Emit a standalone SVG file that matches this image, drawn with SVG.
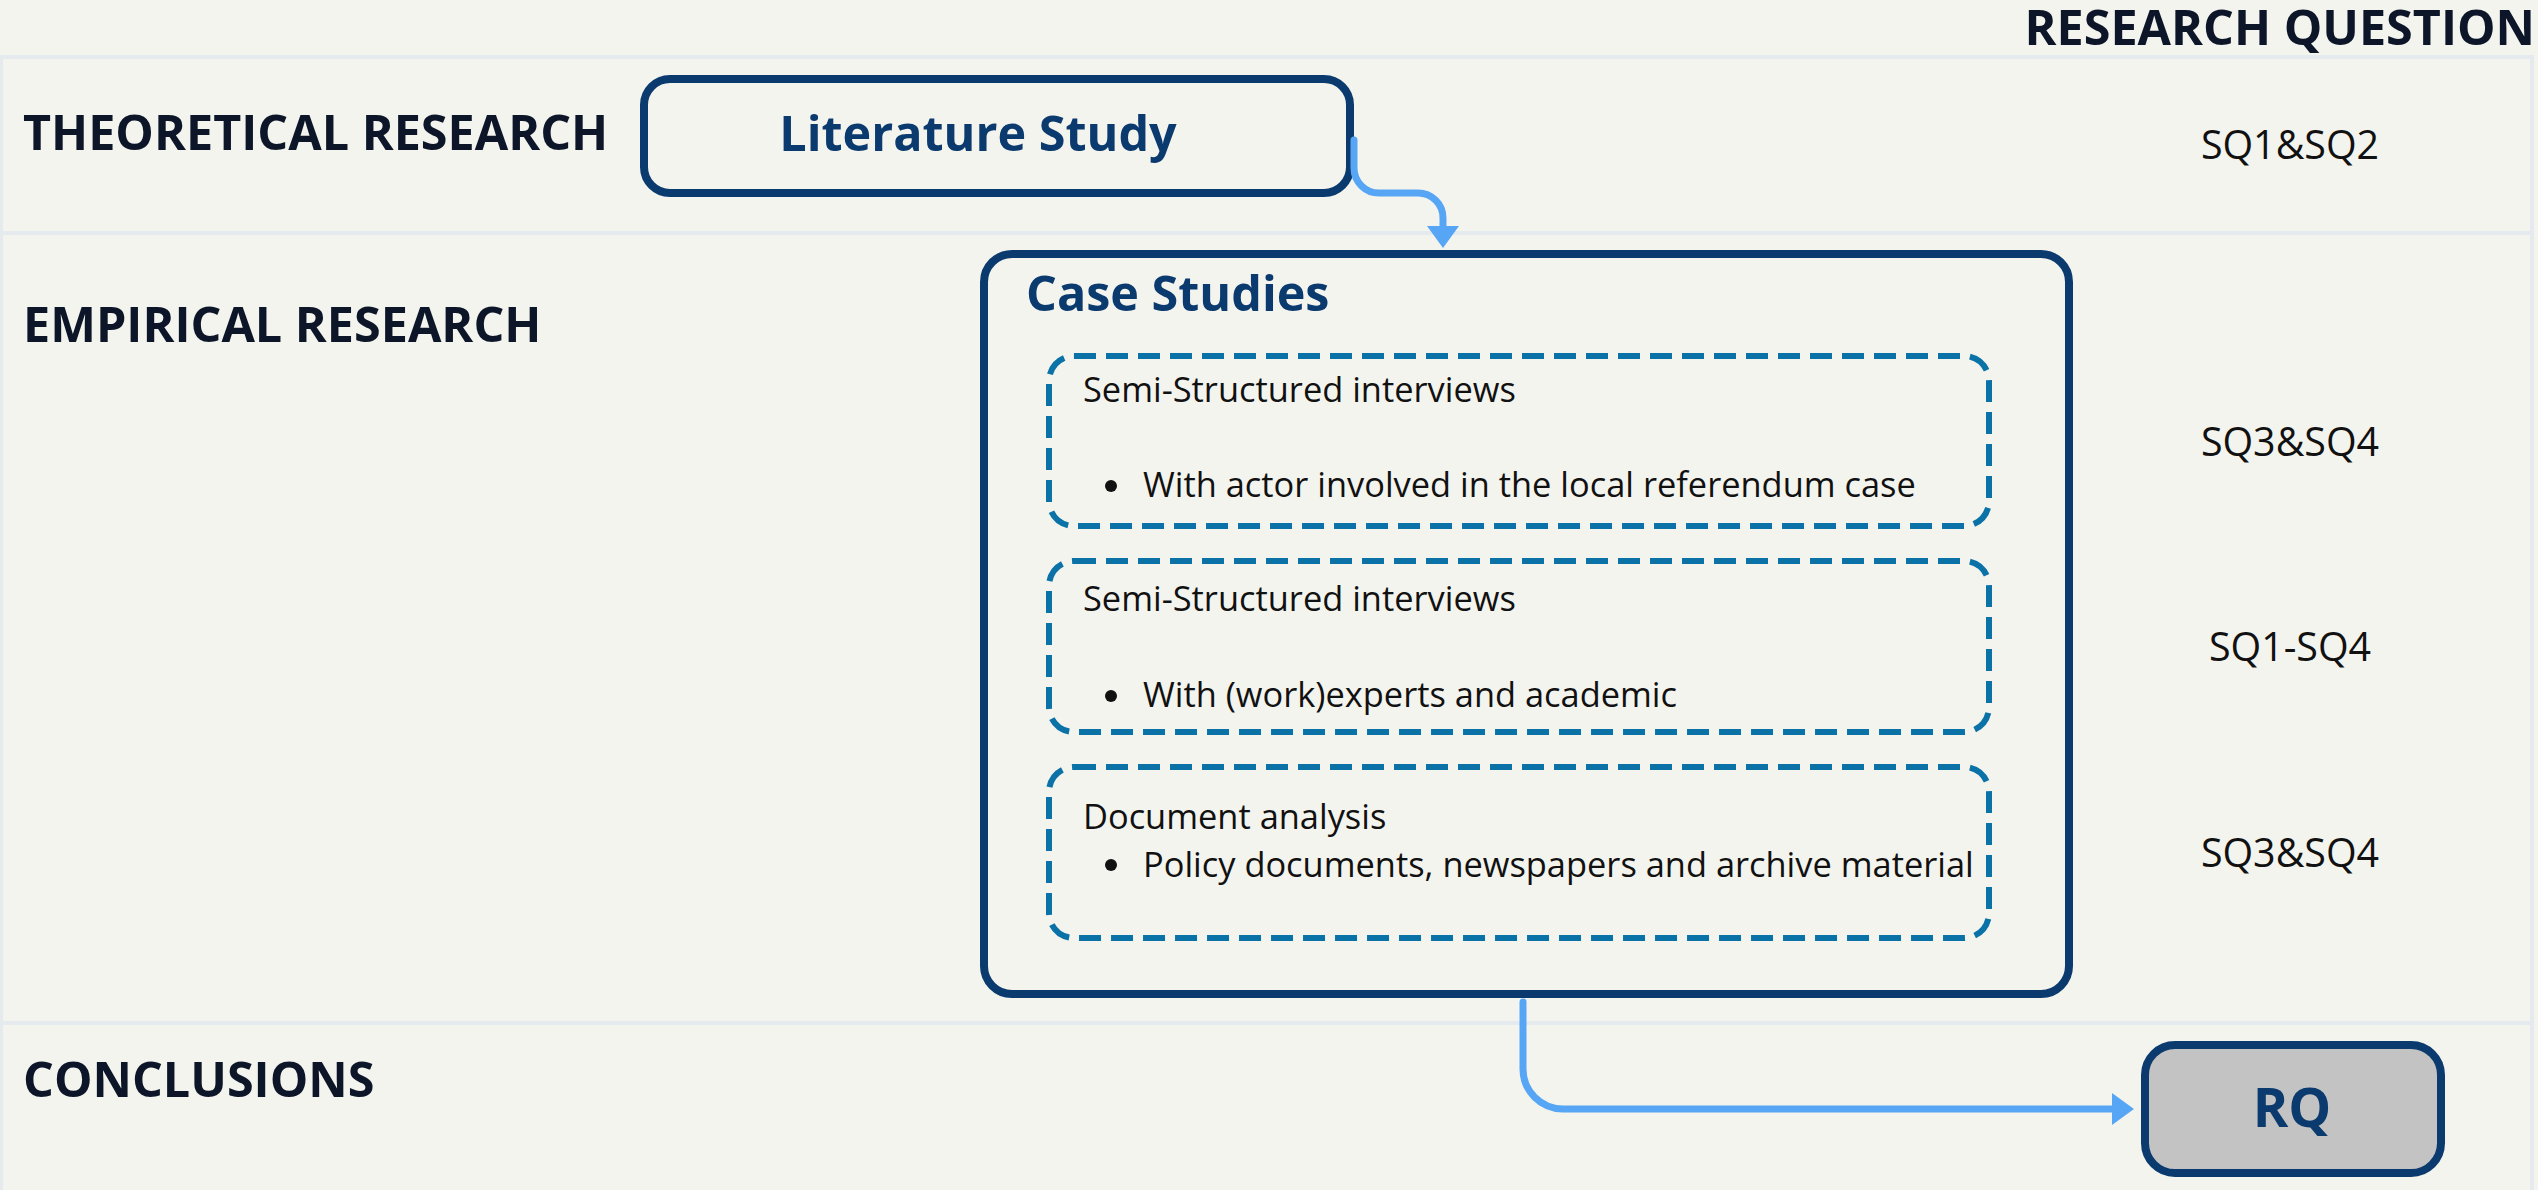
<svg xmlns="http://www.w3.org/2000/svg" width="2538" height="1190" viewBox="0 0 2538 1190">
<style>
.lane{fill:#f4f4ef;stroke:#e5eaee;stroke-width:4}
.lbl{font-family:"Open Sans","Noto Sans",sans-serif;font-weight:700;font-size:48.5px;fill:#0c1628}
.box{fill:#f4f4ef;stroke:#0a3a6e;stroke-width:8}
.btxt{font-family:"Open Sans","Noto Sans",sans-serif;font-weight:700;fill:#0a3a6e}
.dash{fill:none;stroke:#0b72a8;stroke-width:6;stroke-dasharray:22 10}
.t{font-family:"Open Sans","Noto Sans",sans-serif;font-size:34.4px;fill:#111}
.sq{font-family:"Open Sans","Noto Sans",sans-serif;font-size:39.4px;fill:#111;text-anchor:middle}
.conn{fill:none;stroke:#56a6f5;stroke-width:7;stroke-linecap:round;stroke-linejoin:round}
</style>
<defs>
<marker id="arr" viewBox="0 0 22 32" refX="10" refY="16" markerWidth="22" markerHeight="32" markerUnits="userSpaceOnUse" orient="auto">
<path d="M0,0 L22,16 L0,32 z" fill="#56a6f5"/>
</marker>
</defs>
<rect x="0" y="0" width="2538" height="1190" fill="#f4f4ef"/>
<g id="lanes">
<rect class="lane" x="1" y="57" width="2531" height="176"/>
<rect class="lane" x="1" y="233" width="2531" height="790"/>
<rect class="lane" x="1" y="1023" width="2531" height="180"/>
</g>
<g id="labels">
<text class="lbl" x="2535" y="45" text-anchor="end">RESEARCH QUESTION</text>
<text class="lbl" x="23" y="150">THEORETICAL RESEARCH</text>
<text class="lbl" x="23" y="342">EMPIRICAL RESEARCH</text>
<text class="lbl" x="23" y="1097">CONCLUSIONS</text>
<text class="sq" x="2290" y="159">SQ1&amp;SQ2</text>
<text class="sq" x="2290" y="456">SQ3&amp;SQ4</text>
<text class="sq" x="2290" y="661">SQ1-SQ4</text>
<text class="sq" x="2290" y="867">SQ3&amp;SQ4</text>
</g>
<g id="literature-study">
<rect class="box" x="644" y="79" width="706" height="114" rx="26"/>
<text class="btxt" x="978" y="151" font-size="48.5" text-anchor="middle">Literature Study</text>
</g>
<g id="case-studies">
<rect class="box" x="984" y="254" width="1085" height="740" rx="28"/>
<text class="btxt" x="1026" y="311" font-size="48.5">Case Studies</text>
</g>
<g id="interviews-actors">
<rect class="dash" x="1049" y="356" width="940" height="170" rx="25"/>
<text class="t" x="1083" y="402">Semi-Structured interviews</text>
<circle cx="1111" cy="486" r="6" fill="#111"/>
<text class="t" x="1143" y="497">With actor involved in the local referendum case</text>
</g>
<g id="interviews-experts">
<rect class="dash" x="1049" y="561" width="940" height="171" rx="25"/>
<text class="t" x="1083" y="611">Semi-Structured interviews</text>
<circle cx="1111" cy="696" r="6" fill="#111"/>
<text class="t" x="1143" y="707">With (work)experts and academic</text>
</g>
<g id="document-analysis">
<rect class="dash" x="1049" y="767" width="940" height="171" rx="25"/>
<text class="t" x="1083" y="829">Document analysis</text>
<circle cx="1111" cy="865" r="6" fill="#111"/>
<text class="t" x="1143" y="877">Policy documents, newspapers and archive material</text>
</g>
<g id="rq">
<rect class="box" x="2145" y="1045" width="296" height="128" rx="30" style="fill:#c2c3c2"/>
<text class="btxt" x="2292" y="1127" font-size="54" text-anchor="middle">RQ</text>
</g>
<g id="connectors">
<path class="conn" d="M1354,140 V168 A25,25 0 0 0 1379,193 H1418 A25,25 0 0 1 1443,218 V236" marker-end="url(#arr)"/>
<path class="conn" d="M1523,1002 V1069 A40,40 0 0 0 1563,1109 H2122" marker-end="url(#arr)"/>
</g>
</svg>
